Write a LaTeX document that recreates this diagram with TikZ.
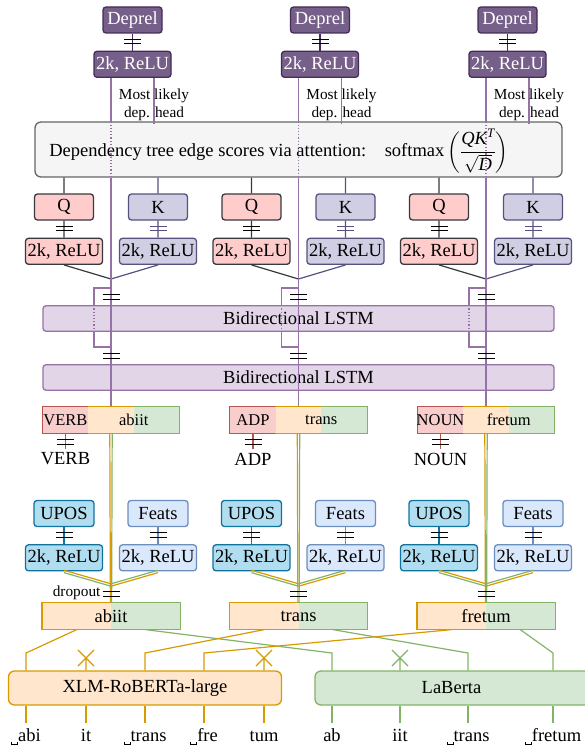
\documentclass[tikz,border=0pt]{standalone}
\usepackage{amsmath}
\usepackage{fontspec}
\setmainfont{Liberation Serif}
\usetikzlibrary{positioning}

\definecolor{depfill}{HTML}{76608A}
\definecolor{depdraw}{HTML}{432D57}
\definecolor{lstmfill}{HTML}{E1D5E7}
\definecolor{lstmdraw}{HTML}{9673A6}
\definecolor{attfill}{HTML}{F5F5F5}
\definecolor{attdraw}{HTML}{666666}
\definecolor{qfill}{HTML}{FFCCCC}
\definecolor{qdraw}{HTML}{36393D}
\definecolor{kfill}{HTML}{D0CEE2}
\definecolor{kdraw}{HTML}{56517E}
\definecolor{uposfill}{HTML}{B1DDF0}
\definecolor{uposdraw}{HTML}{10739E}
\definecolor{featsfill}{HTML}{DAE8FC}
\definecolor{featsdraw}{HTML}{6C8EBF}
\definecolor{xlmfill}{HTML}{FFE6CC}
\definecolor{xlmdraw}{HTML}{D79B00}
\definecolor{labfill}{HTML}{D5E8D4}
\definecolor{labdraw}{HTML}{82B366}
\definecolor{tagfill}{HTML}{F8CECC}
\definecolor{tagdraw}{HTML}{B85450}

% the "=" mark on a connection
\newcommand{\dbar}[3][black]{\draw[#1,line width=1.2pt] ({#2-8.5},{#3-2.3}) -- ++(17,0) ({#2-8.5},{#3+2.3}) -- ++(17,0);}
% sentencepiece word start
\newcommand{\wsp}{\raisebox{-0.22em}{\rule{0.05em}{0.17em}\rule{0.28em}{0.05em}\rule{0.05em}{0.17em}}}

\begin{document}
\begin{tikzpicture}[x=1pt,y=-1pt,node distance=17pt,line width=1.2pt,font=\fontsize{18.5}{21}\selectfont]
    \tikzstyle{block} = [rectangle,rounded corners=3pt,inner sep=0pt,minimum height=26pt,text centered,line width=1.3pt]
    \tikzstyle{unit} = [block,minimum width=59pt]
    \tikzstyle{relu} = [block,minimum width=77pt]
    \tikzstyle{cell} = [rectangle,inner sep=0pt,minimum height=26pt,minimum width=45.5pt]
    \tikzstyle{note} = [font=\fontsize{15.3}{18}\selectfont,align=center,inner sep=0pt]
    \tikzstyle{word} = [font=\fontsize{16.5}{19}\selectfont]

    \useasboundingbox (0,0) rectangle (584,746);

    \node (att) [block,fill=attfill,draw=attdraw,rounded corners=6pt,minimum width=527pt,minimum height=55pt] at (298.5,149.5) {};
    \node (atttext) [inner sep=0pt] at (279,151) {Dependency tree edge scores via attention:\quad softmax\,$\displaystyle\bigg(\frac{\textit{QK}^{\textit{T}}}{\sqrt{\textit{D}}}\bigg)$};

    \node (lstm1) [block,fill=lstmfill,draw=lstmdraw,minimum width=511pt,minimum height=25.5pt] at (298.5,318.5) {Bidirectional LSTM};
    \node (lstm2) [block,fill=lstmfill,draw=lstmdraw,minimum width=511pt,minimum height=25.5pt] at (298.5,377.5) {Bidirectional LSTM};

    \node (xlm) [block,fill=xlmfill,draw=xlmdraw,rounded corners=6pt,minimum width=273pt,minimum height=34pt] at (145,688) {XLM-RoBERTa-large};
    \node (laberta) [block,fill=labfill,draw=labdraw,rounded corners=6pt,minimum width=287pt,minimum height=34pt] at (458.5,688) {};
    \node (labtext) at (451.5,688) {LaBerta};

    \foreach \c/\x/\w/\t/\o/\g in {1/111/abiit/VERB/26/332, 2/298.5/trans/ADP/145/468, 3/486/fretum/NOUN/204/553} {
        \coordinate (col\c) at (\x,0);
        \coordinate (join\c) at (\x,279);
        \coordinate (mix\c) at (\x,585);

        % deprel head
        \node (dep\c) [unit,fill=depfill,draw=depdraw,text=white] at (\x+21.5,20) {Deprel};
        \node (dk\c) [relu,fill=depfill,draw=depdraw,text=white,below=of dep\c] {2k, ReLU};
        \draw [depdraw] (dep\c) -- (dk\c);
        \dbar{\x+21.5}{41.5}
        \draw [lstmdraw] ([xshift=-21.5pt]dk\c.south) -- (att.north -| col\c);
        \draw [lstmdraw,dotted] (att.north -| col\c) -- (att.south -| col\c);
        \draw [lstmdraw] ([xshift=21.5pt]dk\c.south) -- ++(0,46);
        \node (head\c) [note] at (\x+43,105) {Most likely\\dep. head};

        % Q and K
        \node (q\c) [unit,fill=qfill,draw=qdraw] at (\x-47,207) {Q};
        \node (k\c) [unit,fill=kfill,draw=kdraw] at (\x+47,207) {K};
        \node (qd\c) [relu,fill=qfill,draw=qdraw,below=of q\c] {2k, ReLU};
        \node (kd\c) [relu,fill=kfill,draw=kdraw,below=of k\c] {2k, ReLU};
        \draw [qdraw] (att.south -| q\c) -- (q\c) (q\c) -- (qd\c) (qd\c.south) -- (join\c);
        \draw [kdraw] (att.south -| k\c) -- (k\c) (k\c) -- (kd\c) (kd\c.south) -- (join\c);
        \dbar{\x-47}{228.5}
        \dbar[kdraw]{\x+47}{228.5}

        % word with tag
        \node (r\c) [cell,fill=tagfill] at (\x-45.5,420) {};
        \node (o\c) [cell,fill=xlmfill] at (\x,420) {};
        \node (g\c) [cell,fill=labfill] at (\x+45.5,420) {};
        \draw [tagdraw] (r\c.north east) -- (r\c.north west) -- (r\c.south west) -- (r\c.south east);
        \draw [xlmdraw] (o\c.north west) -- (o\c.north east) (o\c.south west) -- (o\c.south east);
        \draw [labdraw] (g\c.north west) -- (g\c.north east) -- (g\c.south east) -- (g\c.south west);
        \node (tg\c) [word] at (r\c) {\t};
        \node (w\c) [word] at (\x+22.75,420) {\w};
        \node (tl\c) at (\x-45.5,459) {\t};
        \draw [tagdraw] (r\c.south) -- (tl\c.north);
        \dbar{\x-45.5}{442}

        % main column through the LSTMs
        \draw [lstmdraw] (att.south -| col\c) -- (o\c.north);
        \draw [lstmdraw] (\x,288) -- (\x-17,288) -- (lstm1.north -| {(\x-17,0)});
        \draw [lstmdraw,dotted] (lstm1.north -| {(\x-17,0)}) -- (lstm1.south -| {(\x-17,0)});
        \draw [lstmdraw] (lstm1.south -| {(\x-17,0)}) -- (\x-17,347) -- (\x,347);
        \dbar{\x}{297}
        \dbar{\x}{356}

        % UPOS and Feats
        \node (up\c) [unit,fill=uposfill,draw=uposdraw,minimum width=60pt] at (\x-47,513.5) {UPOS};
        \node (ft\c) [unit,fill=featsfill,draw=featsdraw,minimum width=60pt] at (\x+47,513.5) {Feats};
        \node (ud\c) [relu,fill=uposfill,draw=uposdraw,below=of up\c] {2k, ReLU};
        \node (fd\c) [relu,fill=featsfill,draw=featsdraw,below=of ft\c] {2k, ReLU};
        \draw [uposdraw] (up\c) -- (ud\c);
        \draw [featsdraw] (ft\c) -- (fd\c);
        \dbar{\x-47}{535}
        \dbar{\x+47}{535}

        % embeddings
        \node (lo\c) [cell,fill=xlmfill,minimum width=68.5pt] at (\x-34.25,616) {};
        \node (lg\c) [cell,fill=labfill,minimum width=68.5pt] at (\x+34.25,616) {};
        \draw [xlmdraw] (lo\c.north east) -- (lo\c.north west) -- (lo\c.south west) -- (lo\c.south east);
        \draw [labdraw] (lg\c.north west) -- (lg\c.north east) -- (lg\c.south east) -- (lg\c.south west);
        \node (lw\c) at (\x,616) {\w};

        \draw [xlmdraw] ([xshift=-1.2pt]o\c.south) -- ([xshift=-1.2pt]lo\c.north east);
        \draw [labdraw] ([xshift=1.2pt]o\c.south) -- ([xshift=1.2pt]lg\c.north west);
        \draw [xlmdraw] ([yshift=1.2pt]ud\c.south) -- ([yshift=1.2pt]mix\c);
        \draw [labdraw] ([yshift=-1.2pt]ud\c.south) -- ([yshift=-1.2pt]mix\c);
        \draw [labdraw] ([yshift=1.2pt]fd\c.south) -- ([yshift=1.2pt]mix\c);
        \draw [xlmdraw] ([yshift=-1.2pt]fd\c.south) -- ([yshift=-1.2pt]mix\c);
        \dbar{\x}{594}

        \coordinate (xo\c) at (\o,653);
        \coordinate (xg\c) at (\g,653);
        \draw [xlmdraw] (lo\c.south) -- (xo\c) -- (xlm.north -| xo\c);
        \draw [labdraw] (lg\c.south) -- (xg\c) -- (laberta.north -| xg\c);
    }

    \node (drop) [note,anchor=east] at (101,593) {dropout};

    % dropped subwords
    \foreach \d/\col/\m in {86/xlmdraw/xlm, 264/xlmdraw/xlm, 400/labdraw/laberta} {
        \coordinate (cx\d) at (\d,658);
        \draw [\col] (\m.north -| cx\d) -- (cx\d) ++(-8,-8) -- ++(16,16) ++(0,-16) -- ++(-16,16);
    }

    % subword tokens
    \foreach \d/\s in {26/\wsp abi, 86/it, 145/\wsp trans, 204/\wsp fre, 264/tum} {
        \node (tk\d) [anchor=base] at (\d,741) {\s};
        \draw [xlmdraw] (xlm.south -| tk\d) -- ++(0,17);
    }
    \foreach \d/\s in {332/ab, 400/iit, 468/\wsp trans, 553/\wsp fretum} {
        \node (tk\d) [anchor=base] at (\d,741) {\s};
        \draw [labdraw] (laberta.south -| tk\d) -- ++(0,17);
    }

\end{tikzpicture}
\end{document}
